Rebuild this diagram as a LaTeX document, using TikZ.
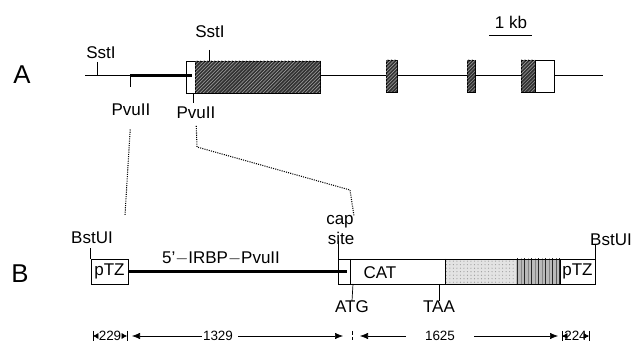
\documentclass[tikz,border=0pt]{standalone}
\usepackage{fontspec}
\setmainfont{Liberation Sans}
\usetikzlibrary{arrows.meta, patterns, positioning}

\begin{document}
\begin{tikzpicture}[x=0.03cm, y=-0.03cm,
	lbl/.style={font=\fontsize{14.5}{16}\selectfont, inner sep=0pt},
	big/.style={font=\fontsize{22}{24}\selectfont, inner sep=0pt},
	num/.style={font=\fontsize{11.5}{13}\selectfont, inner sep=1pt},
	dna/.style={line width=0.7pt},
	ins/.style={line width=2.4pt},
	tick/.style={line width=0.6pt},
	open/.style={draw, line width=0.6pt, fill=white},
	exon/.style={draw, line width=0.6pt, fill=black!80, postaction={pattern=north east lines, pattern color=gray!70}},
	ptz/.style={draw, line width=0.6pt, fill=white, minimum width=1.11cm, minimum height=0.75cm, inner sep=0pt, font=\fontsize{14.5}{16}\selectfont},
	link/.style={densely dotted, line width=0.9pt},
	dim/.style={-{Latex[length=2.4mm, width=1.9mm]}, line width=0.5pt},
	dims/.style={-{Latex[length=1.6mm, width=1.8mm]}, line width=0.5pt}]

	\useasboundingbox (0,0) rectangle (631,342);

	% A: genomic map
	\node[big] (A) at (22,75) {A};
	\draw[dna] (85,75) -- (603,75);
	\draw[open] (186,61) rectangle (195,93);
	\draw[exon] (195,61) rectangle (320,93);
	\draw[exon] (386,60) rectangle (397,92);
	\draw[exon] (467,60) rectangle (475,92);
	\draw[exon] (521,60) rectangle (535,92);
	\draw[open] (535,60) rectangle (554,92);
	\draw[ins] (130,75.5) -- (192,75.5);

	\node[lbl] (sst1) at (101,53) {SstI};
	\node[lbl] (sst2) at (210,32) {SstI};
	\node[lbl] (pv1) at (131,110) {PvuII};
	\node[lbl] (pv2) at (196,113) {PvuII};
	\draw[tick] (97,62) -- (97,75);
	\draw[tick] (209,50) -- (209,61);
	\draw[tick] (130,75) -- (130,87);
	\draw[tick] (193,93) -- (193,103);

	\node[lbl] (kb) at (511,22) {1 kb};
	\draw[line width=0.7pt] (489,35) -- (532,35);

	% B: construct
	\node[big] (B) at (20,274) {B};
	\node[ptz] (pl) at (109.5,271.5) {pTZ};
	\draw[open] (338,259) rectangle (350,284);
	\fill[gray!22, postaction={pattern=dots, pattern color=gray!80}] (445,259) rectangle (516,284);
	\fill[gray!55, postaction={pattern=vertical lines, pattern color=black!85}] (516,259) rectangle (560,284);
	\draw[line width=0.6pt] (338,259) rectangle (595,284);
	\draw[line width=0.6pt] (350,259) -- (350,284) (445,259) -- (445,284);
	\node[ptz, minimum width=1.05cm] (pr) at (577.5,271.5) {pTZ};
	\draw[ins] (pl.east) -- (347,271.5);
	\node[lbl] (cat) at (380,273) {CAT};
	\node[lbl] (ins) at (221,258) {5'$-$IRBP$-$PvuII};

	\node[lbl] (bst1) at (92,238) {BstUI};
	\node[lbl] (bst2) at (611,240) {BstUI};
	\draw[tick] (pl.north west) -- ++(0,-11);
	\draw[tick] (pr.north east) -- ++(0,-14);

	\node[lbl] (cap) at (340,222) {cap};
	\node[lbl] (site) at (341,238) {site};
	\draw[tick] (338,241) -- (338,259);
	\node[lbl] (atg) at (352,307) {ATG};
	\node[lbl] (taa) at (439,307) {TAA};
	\draw[tick] (353,284) -- (atg.north);
	\draw[tick] (439,284) -- (taa.north);

	% dotted links A -> B
	\coordinate (i1) at (125,215);
	\draw[link, shorten <=4mm] (pv1.south) -- (i1);
	\draw[link, shorten <=2mm] (pv2.south) -- (197,147) -- (350,190) -- (cap.north east);

	% lengths (bp)
	\foreach \x in {93,127,562,589}{\draw[tick] (\x,331) -- (\x,341);}
	\draw[tick, densely dashed] (352,331) -- (352,341);
	\node[num] (d229) at (110,336) {229};
	\node[num] (d1329) at (218,336) {1329};
	\node[num] (d1625) at (440,336) {1625};
	\node[num] (d224) at (575.5,336) {224};
	\draw[dims] (d229.west) -- (93,336);
	\draw[dims] (d229.east) -- (127,336);
	\draw[dim] (d1329.west) -- (132,336);
	\draw[dim] (d1329.east) ++(4,0) -- (343,336);
	\draw[dim] (d1625.west) ++(-18,0) -- (360,336);
	\draw[dim] (d1625.east) ++(18,0) -- (558,336);
	\draw[dims] (d224.west) -- (562,336);
	\draw[dims] (d224.east) -- (589,336);
\end{tikzpicture}
\end{document}
